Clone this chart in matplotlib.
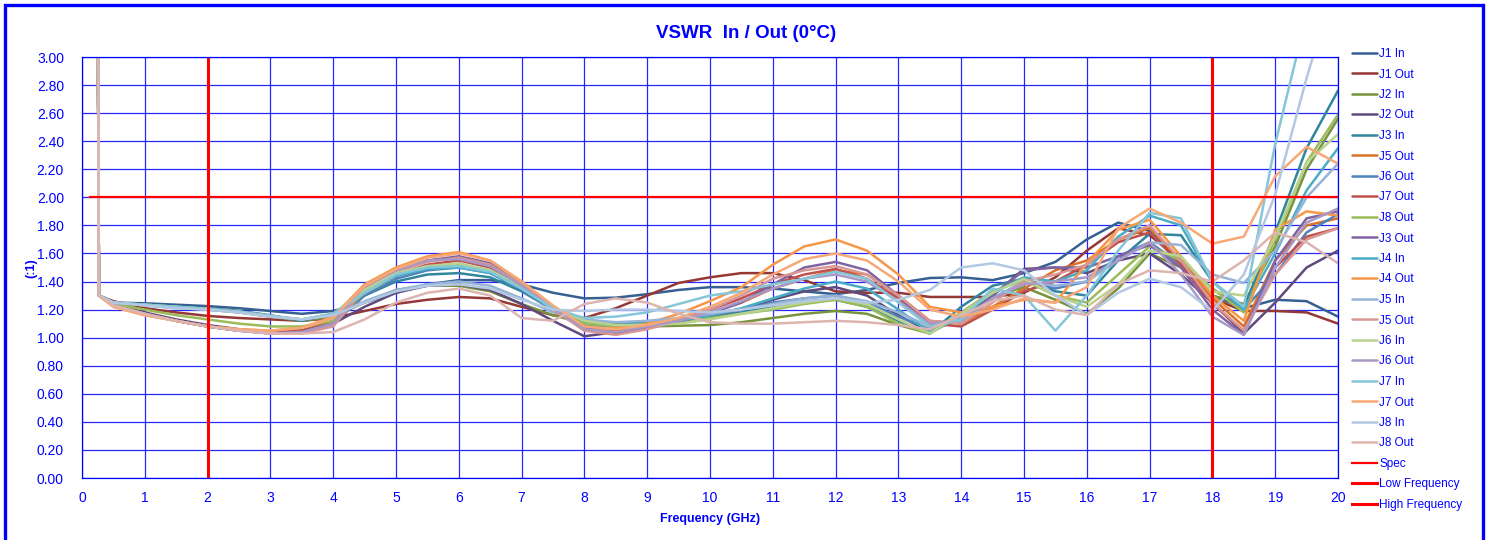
import matplotlib
matplotlib.use('Agg')
import matplotlib.pyplot as plt
from matplotlib.patches import Rectangle

plt.rcParams['font.family'] = ['Liberation Sans', 'DejaVu Sans']

# ---------------- data ----------------
freq_ghz = [0.25, 0.27,
            0.5, 1.0, 1.5, 2.0, 2.5, 3.0, 3.5, 4.0,
            4.5, 5.0, 5.5, 6.0, 6.5, 7.0, 7.5, 8.0,
            8.5, 9.0, 9.5, 10.0, 10.5, 11.0, 11.5, 12.0,
            12.5, 13.0, 13.5, 14.0, 14.5, 15.0, 15.5, 16.0,
            16.5, 17.0, 17.5, 18.0, 18.5, 19.0, 19.5, 20.0]

start_vals = [3.6, 1.30]

series_names = ['J1 In', 'J1 Out', 'J2 In', 'J2 Out', 'J3 In', 'J5 Out', 'J6 Out',
                'J7 Out', 'J8 Out', 'J3 Out', 'J4 In', 'J4 Out', 'J5 In', 'J5 Out',
                'J6 In', 'J6 Out', 'J7 In', 'J7 Out', 'J8 In', 'J8 Out']

series_colors = ['#376092', '#953735', '#77933C', '#604A7B', '#31859C', '#D9732A',
                 '#4F81BD', '#C0504D', '#9BBB59', '#8064A2', '#4BACC6', '#F79646',
                 '#95B3D7', '#D99694', '#B9D38F', '#A997C4', '#85C6D9', '#F7A877',
                 '#B3C8E2', '#DDB5B0']

j1_in = [1.25, 1.245, 1.235, 1.225, 1.21, 1.19, 1.17, 1.19,
         1.25, 1.32, 1.38, 1.41, 1.41, 1.38, 1.32, 1.28,
         1.285, 1.31, 1.34, 1.36, 1.36, 1.35, 1.33, 1.31,
         1.34, 1.39, 1.425, 1.43, 1.41, 1.46, 1.54, 1.70,
         1.82, 1.76, 1.55, 1.30, 1.21, 1.27, 1.26, 1.15]
j1_out = [1.26, 1.21, 1.18, 1.155, 1.14, 1.13, 1.12, 1.14,
          1.19, 1.24, 1.27, 1.29, 1.28, 1.22, 1.16, 1.14,
          1.21, 1.30, 1.39, 1.43, 1.46, 1.46, 1.41, 1.33,
          1.32, 1.32, 1.29, 1.29, 1.29, 1.32, 1.43, 1.62,
          1.78, 1.73, 1.55, 1.28, 1.19, 1.19, 1.18, 1.10]
j2_in = [1.25, 1.23, 1.215, 1.20, 1.18, 1.15, 1.12, 1.15,
         1.25, 1.34, 1.37, 1.37, 1.33, 1.24, 1.16, 1.10,
         1.08, 1.08, 1.085, 1.09, 1.11, 1.14, 1.17, 1.19,
         1.17, 1.09, 1.03, 1.16, 1.29, 1.36, 1.27, 1.17,
         1.35, 1.60, 1.50, 1.30, 1.24, 1.65, 2.20, 2.56]
j2_out = [1.24, 1.18, 1.13, 1.09, 1.06, 1.04, 1.05, 1.10,
          1.22, 1.32, 1.37, 1.38, 1.34, 1.24, 1.12, 1.01,
          1.04, 1.09, 1.12, 1.15, 1.20, 1.27, 1.33, 1.36,
          1.30, 1.16, 1.04, 1.15, 1.30, 1.49, 1.50, 1.46,
          1.55, 1.60, 1.45, 1.25, 1.03, 1.25, 1.50, 1.62]
j3_in = [1.25, 1.235, 1.22, 1.21, 1.19, 1.16, 1.12, 1.17,
         1.30, 1.40, 1.45, 1.46, 1.43, 1.33, 1.20, 1.12,
         1.10, 1.11, 1.13, 1.15, 1.18, 1.22, 1.26, 1.27,
         1.22, 1.12, 1.03, 1.22, 1.37, 1.42, 1.33, 1.30,
         1.55, 1.74, 1.73, 1.40, 1.22, 1.75, 2.35, 2.76]
j5_out_a = [1.23, 1.17, 1.12, 1.08, 1.05, 1.04, 1.05, 1.12,
            1.35, 1.47, 1.55, 1.57, 1.52, 1.38, 1.22, 1.09,
            1.05, 1.08, 1.12, 1.18, 1.25, 1.35, 1.42, 1.48,
            1.45, 1.30, 1.12, 1.10, 1.22, 1.35, 1.48, 1.55,
            1.70, 1.78, 1.55, 1.28, 1.08, 1.55, 1.80, 1.85]
j6_out_a = [1.23, 1.17, 1.12, 1.08, 1.05, 1.04, 1.05, 1.10,
            1.30, 1.42, 1.48, 1.50, 1.46, 1.34, 1.20, 1.10,
            1.07, 1.09, 1.12, 1.16, 1.20, 1.25, 1.28, 1.30,
            1.25, 1.15, 1.06, 1.12, 1.28, 1.40, 1.35, 1.40,
            1.58, 1.68, 1.52, 1.35, 1.20, 1.45, 1.75, 1.88]
j7_out_a = [1.23, 1.17, 1.12, 1.08, 1.05, 1.04, 1.05, 1.10,
            1.33, 1.45, 1.52, 1.55, 1.50, 1.37, 1.20, 1.07,
            1.04, 1.08, 1.13, 1.20, 1.28, 1.38, 1.45, 1.49,
            1.42, 1.28, 1.10, 1.08, 1.20, 1.33, 1.40, 1.52,
            1.68, 1.75, 1.52, 1.24, 1.05, 1.50, 1.72, 1.78]
j8_out_a = [1.24, 1.20, 1.16, 1.13, 1.10, 1.08, 1.08, 1.12,
            1.32, 1.44, 1.50, 1.52, 1.48, 1.36, 1.20, 1.10,
            1.08, 1.09, 1.11, 1.14, 1.17, 1.20, 1.24, 1.27,
            1.22, 1.10, 1.03, 1.18, 1.33, 1.41, 1.30, 1.25,
            1.45, 1.65, 1.55, 1.35, 1.18, 1.70, 2.25, 2.59]
j3_out = [1.23, 1.17, 1.12, 1.08, 1.05, 1.03, 1.04, 1.10,
          1.36, 1.47, 1.55, 1.58, 1.53, 1.39, 1.22, 1.08,
          1.03, 1.07, 1.11, 1.17, 1.25, 1.38, 1.50, 1.54,
          1.48, 1.30, 1.08, 1.12, 1.30, 1.48, 1.50, 1.50,
          1.58, 1.66, 1.50, 1.20, 1.02, 1.55, 1.85, 1.90]
j4_in = [1.25, 1.235, 1.22, 1.205, 1.185, 1.155, 1.13, 1.17,
         1.33, 1.44, 1.49, 1.50, 1.46, 1.35, 1.20, 1.12,
         1.09, 1.10, 1.12, 1.16, 1.21, 1.28, 1.35, 1.40,
         1.35, 1.20, 1.04, 1.15, 1.32, 1.43, 1.40, 1.48,
         1.72, 1.87, 1.80, 1.40, 1.20, 1.60, 2.05, 2.35]
j4_out = [1.22, 1.16, 1.12, 1.08, 1.06, 1.05, 1.07, 1.15,
          1.38, 1.50, 1.58, 1.61, 1.55, 1.40, 1.22, 1.05,
          1.07, 1.10, 1.17, 1.26, 1.36, 1.52, 1.65, 1.70,
          1.62, 1.45, 1.22, 1.18, 1.22, 1.27, 1.25, 1.53,
          1.77, 1.84, 1.58, 1.30, 1.12, 1.77, 1.90, 1.87]
j5_in = [1.25, 1.23, 1.21, 1.20, 1.18, 1.15, 1.13, 1.16,
         1.26, 1.34, 1.38, 1.40, 1.37, 1.28, 1.18, 1.13,
         1.11, 1.12, 1.14, 1.17, 1.20, 1.24, 1.28, 1.30,
         1.26, 1.18, 1.08, 1.12, 1.28, 1.40, 1.37, 1.40,
         1.55, 1.68, 1.66, 1.45, 1.39, 1.62, 2.00, 2.24]
j5_out_b = [1.23, 1.17, 1.12, 1.08, 1.05, 1.03, 1.03, 1.08,
            1.35, 1.47, 1.54, 1.57, 1.52, 1.38, 1.20, 1.05,
            1.02, 1.06, 1.12, 1.20, 1.30, 1.42, 1.48, 1.51,
            1.45, 1.30, 1.12, 1.10, 1.25, 1.40, 1.45, 1.52,
            1.70, 1.80, 1.55, 1.25, 1.05, 1.45, 1.70, 1.78]
j6_in = [1.25, 1.235, 1.22, 1.205, 1.185, 1.155, 1.13, 1.17,
         1.34, 1.46, 1.51, 1.53, 1.48, 1.36, 1.21, 1.12,
         1.09, 1.09, 1.10, 1.13, 1.17, 1.21, 1.25, 1.28,
         1.24, 1.13, 1.03, 1.17, 1.32, 1.42, 1.30, 1.22,
         1.38, 1.62, 1.58, 1.33, 1.30, 1.72, 2.25, 2.45]
j6_out_b = [1.23, 1.17, 1.12, 1.08, 1.05, 1.03, 1.04, 1.10,
            1.37, 1.48, 1.55, 1.56, 1.51, 1.37, 1.21, 1.06,
            1.04, 1.08, 1.12, 1.18, 1.26, 1.35, 1.42, 1.45,
            1.40, 1.26, 1.10, 1.13, 1.28, 1.38, 1.40, 1.43,
            1.55, 1.68, 1.45, 1.15, 1.02, 1.50, 1.82, 1.92]
j7_in = [1.25, 1.235, 1.22, 1.205, 1.185, 1.155, 1.13, 1.17,
         1.32, 1.45, 1.50, 1.51, 1.47, 1.35, 1.21, 1.14,
         1.15, 1.18, 1.24, 1.30, 1.33, 1.38, 1.42, 1.47,
         1.42, 1.25, 1.08, 1.13, 1.35, 1.30, 1.05, 1.30,
         1.62, 1.89, 1.85, 1.40, 1.22, 2.38, 3.30, 3.80]
j7_out_b = [1.22, 1.16, 1.12, 1.08, 1.06, 1.05, 1.07, 1.14,
            1.37, 1.49, 1.57, 1.60, 1.55, 1.40, 1.23, 1.08,
            1.06, 1.09, 1.14, 1.22, 1.32, 1.45, 1.56, 1.60,
            1.55, 1.40, 1.20, 1.15, 1.20, 1.28, 1.25, 1.36,
            1.78, 1.92, 1.82, 1.67, 1.72, 2.15, 2.36, 2.24]
j8_in = [1.25, 1.23, 1.21, 1.20, 1.18, 1.15, 1.13, 1.16,
         1.25, 1.33, 1.37, 1.38, 1.35, 1.27, 1.20, 1.19,
         1.20, 1.20, 1.19, 1.18, 1.20, 1.23, 1.26, 1.28,
         1.25, 1.27, 1.34, 1.50, 1.53, 1.48, 1.30, 1.16,
         1.32, 1.42, 1.36, 1.19, 1.45, 2.02, 2.85, 3.60]
j8_out_b = [1.23, 1.17, 1.12, 1.08, 1.05, 1.03, 1.03, 1.04,
            1.13, 1.25, 1.32, 1.35, 1.30, 1.14, 1.12, 1.24,
            1.28, 1.25, 1.17, 1.11, 1.10, 1.10, 1.11, 1.12,
            1.11, 1.09, 1.06, 1.16, 1.26, 1.30, 1.20, 1.16,
            1.38, 1.48, 1.46, 1.40, 1.55, 1.75, 1.68, 1.53]

series_values = [j1_in, j1_out, j2_in, j2_out, j3_in, j5_out_a, j6_out_a,
                 j7_out_a, j8_out_a, j3_out, j4_in, j4_out, j5_in, j5_out_b,
                 j6_in, j6_out_b, j7_in, j7_out_b, j8_in, j8_out_b]

spec_x = [0.13, 20.0]
spec_y = [2.0, 2.0]
low_freq_x = [2.0, 2.0]
low_freq_y = [0.0, 3.0]
high_freq_x = [18.0, 18.0]
high_freq_y = [0.0, 3.0]

x_ticks = list(range(0, 21))
y_ticks = [0.0, 0.2, 0.4, 0.6, 0.8, 1.0, 1.2, 1.4, 1.6, 1.8, 2.0,
           2.2, 2.4, 2.6, 2.8, 3.0]

title_text = 'VSWR  In / Out (0°C)'
x_label = 'Frequency (GHz)'
y_label = '(:1)'

# ---------------- drawing ----------------
BLUE = '#0000FF'
RED = '#FF0000'
W, H = 1492, 540

fig = plt.figure(figsize=(W / 100, H / 100), dpi=100)
fig.patch.set_facecolor('white')
ax = fig.add_axes([82 / W, 1 - 478 / H, (1338 - 82) / W, (478 - 57) / H])

for name, vals, color in zip(series_names, series_values, series_colors):
    ax.plot(freq_ghz, start_vals + vals, color=color, lw=1.8, label=name,
            solid_joinstyle='round', solid_capstyle='round')

ax.plot(spec_x, spec_y, color=RED, lw=1.6, label='Spec')
ax.plot(low_freq_x, low_freq_y, color=RED, lw=2.2, label='Low Frequency')
ax.plot(high_freq_x, high_freq_y, color=RED, lw=2.2, label='High Frequency')

ax.set_xlim(0, 20)
ax.set_ylim(0, 3)
ax.set_xticks(x_ticks)
ax.set_xticklabels([str(t) for t in x_ticks])
ax.set_yticks(y_ticks)
ax.set_yticklabels(['%.2f' % t for t in y_ticks])
ax.grid(True, color=BLUE, lw=0.9, alpha=0.85)
ax.set_axisbelow(True)
ax.tick_params(axis='both', length=0, colors=BLUE, labelsize=10)
ax.tick_params(axis='y', pad=13)
ax.tick_params(axis='x', pad=9)
for s in ax.spines.values():
    s.set_color(BLUE)
    s.set_linewidth(0.9)

leg = ax.legend(loc='upper left', bbox_to_anchor=(1352 / W, 1 - 48 / H),
                bbox_transform=fig.transFigure, frameon=False, fontsize=8.5,
                handlelength=2.1, handletextpad=0.2, labelspacing=0.72,
                borderpad=0, borderaxespad=0)
for t in leg.get_texts():
    t.set_color(BLUE)

fig.text(0.5, 1 - 33 / H, title_text, ha='center', va='center',
         fontsize=13.5, fontweight='bold', color=BLUE)
fig.text(710 / W, 1 - 519 / H, x_label, ha='center', va='center',
         fontsize=9, fontweight='bold', color=BLUE)
fig.text(31 / W, 1 - 268 / H, y_label, ha='center', va='center', rotation=90,
         fontsize=9, fontweight='bold', color=BLUE)

fig.add_artist(Rectangle((4.5 / W, -0.05), (1483 - 4.5) / W, 1.05 - 4.5 / H,
                         transform=fig.transFigure, fill=False,
                         edgecolor=BLUE, lw=2.4))

fig.savefig('out.png', dpi=100)
